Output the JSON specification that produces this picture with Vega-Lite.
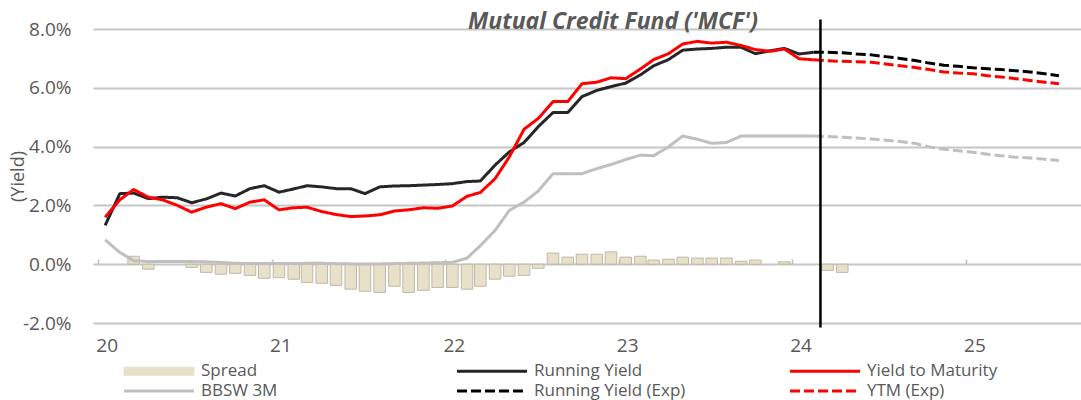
{
  "$schema": "https://vega.github.io/schema/vega-lite/v6.json",
  "width": 988,
  "height": 294,
  "autosize": {"type": "none"},
  "padding": {"left": 93, "top": 29, "right": 0, "bottom": 77},
  "background": "white",
  "config": {"view": {"stroke": null}, "font": "Open Sans"},
  "title": {"text": "Mutual Credit Fund ('MCF')", "font": "Open Sans", "fontSize": 23, "fontWeight": "bold", "fontStyle": "italic", "color": "#595959", "anchor": "middle", "frame": "group", "orient": "top", "dx": 26, "dy": 20, "offset": 4},
  "data": {"values": [
    {"date": "2020-01-01", "Running Yield": 1.32, "Yield to Maturity": 1.60, "BBSW 3M": 0.83},
    {"date": "2020-02-01", "Running Yield": 2.40, "Yield to Maturity": 2.19, "BBSW 3M": 0.40},
    {"date": "2020-03-01", "Running Yield": 2.42, "Yield to Maturity": 2.54, "BBSW 3M": 0.12, "Spread": 0.27},
    {"date": "2020-04-01", "Running Yield": 2.23, "Yield to Maturity": 2.28, "BBSW 3M": 0.09, "Spread": -0.17},
    {"date": "2020-05-01", "Running Yield": 2.28, "Yield to Maturity": 2.19, "BBSW 3M": 0.09},
    {"date": "2020-06-01", "Running Yield": 2.26, "Yield to Maturity": 2.00, "BBSW 3M": 0.09},
    {"date": "2020-07-01", "Running Yield": 2.09, "Yield to Maturity": 1.77, "BBSW 3M": 0.09, "Spread": -0.11},
    {"date": "2020-08-01", "Running Yield": 2.22, "Yield to Maturity": 1.94, "BBSW 3M": 0.08, "Spread": -0.28},
    {"date": "2020-09-01", "Running Yield": 2.42, "Yield to Maturity": 2.06, "BBSW 3M": 0.06, "Spread": -0.34},
    {"date": "2020-10-01", "Running Yield": 2.32, "Yield to Maturity": 1.89, "BBSW 3M": 0.03, "Spread": -0.31},
    {"date": "2020-11-01", "Running Yield": 2.57, "Yield to Maturity": 2.11, "BBSW 3M": 0.02, "Spread": -0.38},
    {"date": "2020-12-01", "Running Yield": 2.67, "Yield to Maturity": 2.19, "BBSW 3M": 0.02, "Spread": -0.48},
    {"date": "2021-01-01", "Running Yield": 2.45, "Yield to Maturity": 1.85, "BBSW 3M": 0.02, "Spread": -0.46},
    {"date": "2021-02-01", "Running Yield": 2.56, "Yield to Maturity": 1.92, "BBSW 3M": 0.02, "Spread": -0.51},
    {"date": "2021-03-01", "Running Yield": 2.67, "Yield to Maturity": 1.94, "BBSW 3M": 0.03, "Spread": -0.62},
    {"date": "2021-04-01", "Running Yield": 2.63, "Yield to Maturity": 1.79, "BBSW 3M": 0.03, "Spread": -0.65},
    {"date": "2021-05-01", "Running Yield": 2.57, "Yield to Maturity": 1.69, "BBSW 3M": 0.02, "Spread": -0.72},
    {"date": "2021-06-01", "Running Yield": 2.57, "Yield to Maturity": 1.62, "BBSW 3M": 0.01, "Spread": -0.85},
    {"date": "2021-07-01", "Running Yield": 2.40, "Yield to Maturity": 1.64, "BBSW 3M": 0.01, "Spread": -0.92},
    {"date": "2021-08-01", "Running Yield": 2.63, "Yield to Maturity": 1.68, "BBSW 3M": 0.01, "Spread": -0.96},
    {"date": "2021-09-01", "Running Yield": 2.66, "Yield to Maturity": 1.81, "BBSW 3M": 0.02, "Spread": -0.75},
    {"date": "2021-10-01", "Running Yield": 2.67, "Yield to Maturity": 1.85, "BBSW 3M": 0.03, "Spread": -0.96},
    {"date": "2021-11-01", "Running Yield": 2.69, "Yield to Maturity": 1.92, "BBSW 3M": 0.04, "Spread": -0.89},
    {"date": "2021-12-01", "Running Yield": 2.71, "Yield to Maturity": 1.90, "BBSW 3M": 0.05, "Spread": -0.79},
    {"date": "2022-01-01", "Running Yield": 2.74, "Yield to Maturity": 1.98, "BBSW 3M": 0.06, "Spread": -0.79},
    {"date": "2022-02-01", "Running Yield": 2.81, "Yield to Maturity": 2.31, "BBSW 3M": 0.21, "Spread": -0.85},
    {"date": "2022-03-01", "Running Yield": 2.83, "Yield to Maturity": 2.44, "BBSW 3M": 0.63, "Spread": -0.75},
    {"date": "2022-04-01", "Running Yield": 3.37, "Yield to Maturity": 2.91, "BBSW 3M": 1.15, "Spread": -0.51},
    {"date": "2022-05-01", "Running Yield": 3.82, "Yield to Maturity": 3.65, "BBSW 3M": 1.83, "Spread": -0.41},
    {"date": "2022-06-01", "Running Yield": 4.14, "Yield to Maturity": 4.59, "BBSW 3M": 2.11, "Spread": -0.38},
    {"date": "2022-07-01", "Running Yield": 4.68, "Yield to Maturity": 4.96, "BBSW 3M": 2.49, "Spread": -0.14},
    {"date": "2022-08-01", "Running Yield": 5.16, "Yield to Maturity": 5.53, "BBSW 3M": 3.08, "Spread": 0.38},
    {"date": "2022-09-01", "Running Yield": 5.16, "Yield to Maturity": 5.53, "BBSW 3M": 3.08, "Spread": 0.24},
    {"date": "2022-10-01", "Running Yield": 5.70, "Yield to Maturity": 6.14, "BBSW 3M": 3.08, "Spread": 0.34},
    {"date": "2022-11-01", "Running Yield": 5.91, "Yield to Maturity": 6.19, "BBSW 3M": 3.25, "Spread": 0.34},
    {"date": "2022-12-01", "Running Yield": 6.04, "Yield to Maturity": 6.34, "BBSW 3M": 3.39, "Spread": 0.42},
    {"date": "2023-01-01", "Running Yield": 6.16, "Yield to Maturity": 6.31, "BBSW 3M": 3.56, "Spread": 0.24},
    {"date": "2023-02-01", "Running Yield": 6.44, "Yield to Maturity": 6.64, "BBSW 3M": 3.71, "Spread": 0.27},
    {"date": "2023-03-01", "Running Yield": 6.75, "Yield to Maturity": 6.96, "BBSW 3M": 3.69, "Spread": 0.14},
    {"date": "2023-04-01", "Running Yield": 6.96, "Yield to Maturity": 7.16, "BBSW 3M": 3.99, "Spread": 0.17},
    {"date": "2023-05-01", "Running Yield": 7.28, "Yield to Maturity": 7.49, "BBSW 3M": 4.36, "Spread": 0.24},
    {"date": "2023-06-01", "Running Yield": 7.32, "Yield to Maturity": 7.58, "BBSW 3M": 4.25, "Spread": 0.21},
    {"date": "2023-07-01", "Running Yield": 7.34, "Yield to Maturity": 7.52, "BBSW 3M": 4.11, "Spread": 0.21},
    {"date": "2023-08-01", "Running Yield": 7.38, "Yield to Maturity": 7.55, "BBSW 3M": 4.14, "Spread": 0.21},
    {"date": "2023-09-01", "Running Yield": 7.38, "Yield to Maturity": 7.44, "BBSW 3M": 4.36, "Spread": 0.10},
    {"date": "2023-10-01", "Running Yield": 7.16, "Yield to Maturity": 7.30, "BBSW 3M": 4.36, "Spread": 0.14},
    {"date": "2023-11-01", "Running Yield": 7.26, "Yield to Maturity": 7.24, "BBSW 3M": 4.36},
    {"date": "2023-12-01", "Running Yield": 7.34, "Yield to Maturity": 7.32, "BBSW 3M": 4.36, "Spread": 0.08},
    {"date": "2024-01-01", "Running Yield": 7.15, "Yield to Maturity": 6.99, "BBSW 3M": 4.36},
    {"date": "2024-02-01", "Running Yield": 7.21, "Yield to Maturity": 6.95, "BBSW 3M": 4.36, "Running Yield (Exp)": 7.21, "YTM (Exp)": 6.95, "BBSW 3M (Exp)": 4.36},
    {"date": "2024-03-01", "Spread": -0.21, "Running Yield (Exp)": 7.21, "YTM (Exp)": 6.92, "BBSW 3M (Exp)": 4.34},
    {"date": "2024-04-01", "Spread": -0.28, "Running Yield (Exp)": 7.19, "YTM (Exp)": 6.90, "BBSW 3M (Exp)": 4.32},
    {"date": "2024-05-01", "Running Yield (Exp)": 7.15, "YTM (Exp)": 6.89, "BBSW 3M (Exp)": 4.29},
    {"date": "2024-06-01", "Running Yield (Exp)": 7.12, "YTM (Exp)": 6.87, "BBSW 3M (Exp)": 4.26},
    {"date": "2024-07-01", "Running Yield (Exp)": 7.06, "YTM (Exp)": 6.81, "BBSW 3M (Exp)": 4.22},
    {"date": "2024-08-01", "Running Yield (Exp)": 7.00, "YTM (Exp)": 6.75, "BBSW 3M (Exp)": 4.17},
    {"date": "2024-09-01", "Running Yield (Exp)": 6.93, "YTM (Exp)": 6.69, "BBSW 3M (Exp)": 4.11},
    {"date": "2024-10-01", "Running Yield (Exp)": 6.84, "YTM (Exp)": 6.62, "BBSW 3M (Exp)": 3.99},
    {"date": "2024-11-01", "Running Yield (Exp)": 6.77, "YTM (Exp)": 6.54, "BBSW 3M (Exp)": 3.91},
    {"date": "2024-12-01", "Running Yield (Exp)": 6.73, "YTM (Exp)": 6.50, "BBSW 3M (Exp)": 3.86},
    {"date": "2025-01-01", "Running Yield (Exp)": 6.68, "YTM (Exp)": 6.48, "BBSW 3M (Exp)": 3.81},
    {"date": "2025-02-01", "Running Yield (Exp)": 6.65, "YTM (Exp)": 6.41, "BBSW 3M (Exp)": 3.74},
    {"date": "2025-03-01", "Running Yield (Exp)": 6.62, "YTM (Exp)": 6.37, "BBSW 3M (Exp)": 3.69},
    {"date": "2025-04-01", "Running Yield (Exp)": 6.58, "YTM (Exp)": 6.31, "BBSW 3M (Exp)": 3.64},
    {"date": "2025-05-01", "Running Yield (Exp)": 6.54, "YTM (Exp)": 6.25, "BBSW 3M (Exp)": 3.61},
    {"date": "2025-06-01", "Running Yield (Exp)": 6.48, "YTM (Exp)": 6.19, "BBSW 3M (Exp)": 3.57},
    {"date": "2025-07-01", "Running Yield (Exp)": 6.41, "YTM (Exp)": 6.14, "BBSW 3M (Exp)": 3.53}
  ]},
  "layer": [
    {
      "transform": [
        {"fold": ["BBSW 3M", "Running Yield", "Yield to Maturity", "Spread", "BBSW 3M (Exp)", "Running Yield (Exp)", "YTM (Exp)"], "as": ["series", "value"]},
        {"filter": "datum.series === 'Spread' && isValid(datum.value)"}
      ],
      "mark": {"type": "bar", "size": 11.5, "stroke": "#BFB9A8", "strokeWidth": 1},
      "encoding": {
        "x": {"field": "date", "type": "temporal",
          "scale": {"type": "utc", "domain": [{"year": 2019, "month": 12, "date": 17, "utc": true}, {"year": 2025, "month": 8, "date": 6, "utc": true}]},
          "axis": {"orient": "bottom", "values": [{"year": 2020, "month": 1, "date": 1, "utc": true}, {"year": 2021, "month": 1, "date": 1, "utc": true}, {"year": 2022, "month": 1, "date": 1, "utc": true}, {"year": 2023, "month": 1, "date": 1, "utc": true}, {"year": 2024, "month": 1, "date": 1, "utc": true}, {"year": 2025, "month": 1, "date": 1, "utc": true}],
            "labelExpr": "utcFormat(datum.value, '%y')", "ticks": false, "domain": false, "grid": false, "labelFont": "Open Sans", "labelFontSize": 19, "labelColor": "#595959", "labelPadding": 13, "labelOffset": 1.5, "labelFlush": false, "labelOverlap": false, "title": null}},
        "y": {"field": "value", "type": "quantitative", "title": "(Yield)",
          "scale": {"domain": [-2, 8], "nice": false, "zero": false},
          "axis": {"values": [-2, 0, 2, 4, 6, 8], "labelExpr": "(datum.value < 0 ? '-' : '') + format(abs(datum.value), '.1f') + '%'", "grid": true, "gridColor": "#C6C6C6", "gridWidth": 1.8, "ticks": false, "domain": false, "labelFont": "Open Sans", "labelFontSize": 19, "labelColor": "#595959", "labelPadding": 22, "titleFont": "Open Sans", "titleFontSize": 18, "titleFontWeight": "normal", "titleColor": "#595959", "titleX": -75, "titleY": 147, "titleAngle": 270, "titleBaseline": "middle", "titleAlign": "center"}},
        "y2": {"datum": 0},
        "color": {"field": "series", "type": "nominal",
          "scale": {"domain": ["Spread", "Running Yield", "Yield to Maturity", "BBSW 3M", "Running Yield (Exp)", "YTM (Exp)", "BBSW 3M (Exp)"], "range": ["#E8E0C8", "#262626", "#FF0000", "#BFBFBF", "#000000", "#FF0000", "#BFBFBF"]},
          "legend": {"orient": "none", "legendX": 22.5, "legendY": 333.5, "direction": "horizontal", "columns": 3, "gridAlign": "all", "title": null,
            "values": ["Spread", "Running Yield", "Yield to Maturity", "BBSW 3M", "Running Yield (Exp)", "YTM (Exp)"],
            "symbolSize": 100, "symbolOffset": 35, "labelOffset": 33.5, "labelFont": "Open Sans", "labelFontSize": 17, "labelColor": "#595959", "labelLimit": 400, "columnPadding": 96, "rowPadding": 2, "padding": 0,
            "encode": {"symbols": {"update": {
              "size": {"value": 4900},
              "shape": {"signal": "datum.value === 'Spread' ? 'M-1,-0.115H1V0.115H-1Z' : 'stroke'"},
              "fill": {"signal": "datum.value === 'Spread' ? '#E8E0C8' : 'transparent'"},
              "stroke": {"signal": "datum.value === 'Spread' ? '#BFB9A8' : scale('color', datum.value)"},
              "strokeWidth": {"signal": "datum.value === 'Spread' ? 1 : 3"},
              "strokeDash": {"signal": "indexof(datum.value, 'Exp') >= 0 ? [10, 4] : [1, 0]"},
              "opacity": {"value": 1}
            }}}}}
      }
    },
    {
      "transform": [
        {"fold": ["BBSW 3M", "Running Yield", "Yield to Maturity", "Spread", "BBSW 3M (Exp)", "Running Yield (Exp)", "YTM (Exp)"], "as": ["series", "value"]},
        {"filter": "datum.series !== 'Spread' && isValid(datum.value)"}
      ],
      "mark": {"type": "line", "strokeWidth": 3, "strokeCap": "butt", "strokeJoin": "round"},
      "encoding": {
        "x": {"field": "date", "type": "temporal",
          "scale": {"type": "utc", "domain": [{"year": 2019, "month": 12, "date": 17, "utc": true}, {"year": 2025, "month": 8, "date": 6, "utc": true}]},
          "axis": {"orient": "top", "offset": -235, "values": [{"year": 2020, "month": 1, "date": 1, "utc": true}, {"year": 2021, "month": 1, "date": 1, "utc": true}, {"year": 2022, "month": 1, "date": 1, "utc": true}, {"year": 2023, "month": 1, "date": 1, "utc": true}, {"year": 2024, "month": 1, "date": 1, "utc": true}, {"year": 2025, "month": 1, "date": 1, "utc": true}],
            "labels": false, "ticks": true, "tickSize": 5, "tickColor": "#BFBFBF", "tickWidth": 1.5, "tickOffset": -7.2, "domain": false, "grid": false, "title": null}},
        "y": {"field": "value", "type": "quantitative", "title": "(Yield)",
          "scale": {"domain": [-2, 8], "nice": false, "zero": false}},
        "color": {"field": "series", "type": "nominal",
          "scale": {"domain": ["Spread", "Running Yield", "Yield to Maturity", "BBSW 3M", "Running Yield (Exp)", "YTM (Exp)", "BBSW 3M (Exp)"], "range": ["#E8E0C8", "#262626", "#FF0000", "#BFBFBF", "#000000", "#FF0000", "#BFBFBF"]},
          "legend": {"orient": "none", "legendX": 22.5, "legendY": 333.5, "direction": "horizontal", "columns": 3, "gridAlign": "all", "title": null,
            "values": ["Spread", "Running Yield", "Yield to Maturity", "BBSW 3M", "Running Yield (Exp)", "YTM (Exp)"],
            "symbolSize": 100, "symbolOffset": 35, "labelOffset": 33.5, "labelFont": "Open Sans", "labelFontSize": 17, "labelColor": "#595959", "labelLimit": 400, "columnPadding": 96, "rowPadding": 2, "padding": 0,
            "encode": {"symbols": {"update": {
              "size": {"value": 4900},
              "shape": {"signal": "datum.value === 'Spread' ? 'M-1,-0.115H1V0.115H-1Z' : 'stroke'"},
              "fill": {"signal": "datum.value === 'Spread' ? '#E8E0C8' : 'transparent'"},
              "stroke": {"signal": "datum.value === 'Spread' ? '#BFB9A8' : scale('color', datum.value)"},
              "strokeWidth": {"signal": "datum.value === 'Spread' ? 1 : 3"},
              "strokeDash": {"signal": "indexof(datum.value, 'Exp') >= 0 ? [10, 4] : [1, 0]"},
              "opacity": {"value": 1}
            }}}}},
        "strokeDash": {"field": "series", "type": "nominal",
          "scale": {"domain": ["Running Yield", "Yield to Maturity", "BBSW 3M", "Running Yield (Exp)", "YTM (Exp)", "BBSW 3M (Exp)"], "range": [[1, 0], [1, 0], [1, 0], [10, 4], [10, 4], [10, 4]]},
          "legend": null}
      }
    },
    {
      "data": {"values": [{"date": "2024-02-15", "event": "Forecast start"}]},
      "mark": {"type": "rule", "color": "#000000", "strokeWidth": 2.5},
      "encoding": {
        "x": {"field": "date", "type": "temporal", "axis": null},
        "y": {"datum": 8.32, "type": "quantitative"},
        "y2": {"datum": -2.15}
      }
    }
  ],
  "resolve": {"axis": {"x": "independent"}}
}
